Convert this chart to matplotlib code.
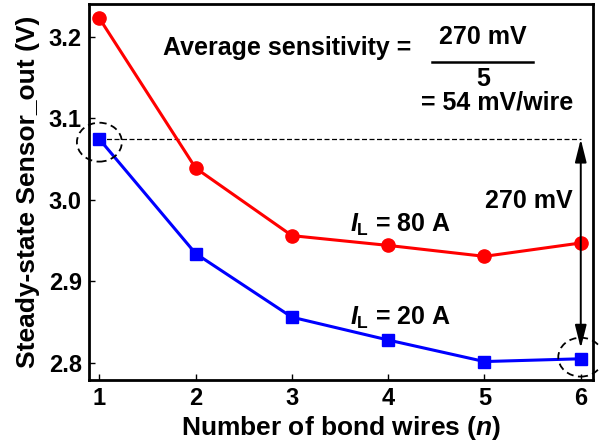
import numpy as np
import matplotlib
matplotlib.use('Agg')
import matplotlib.pyplot as plt
from matplotlib.patches import Ellipse
from matplotlib.lines import Line2D

plt.rcParams['font.family'] = 'Liberation Sans'
plt.rcParams['font.weight'] = 'bold'
plt.rcParams['mathtext.fontset'] = 'custom'
plt.rcParams['mathtext.bf'] = 'Liberation Sans:bold'
plt.rcParams['mathtext.it'] = 'Liberation Sans:bold:italic'
plt.rcParams['mathtext.rm'] = 'Liberation Sans:bold'

# data
n_wires = [1, 2, 3, 4, 5, 6]
v_80A = [3.2225, 3.0388, 2.956, 2.944, 2.9306, 2.947]
v_20A = [3.0743, 2.934, 2.856, 2.828, 2.8016, 2.805]
x_ticks = [1, 2, 3, 4, 5, 6]
y_ticks = [2.8, 2.9, 3.0, 3.1, 3.2]

fig = plt.figure(figsize=(6, 4.46), dpi=100)
ax = fig.add_axes([0.148, 0.148, 0.840, 0.843])

ax.plot(n_wires, v_80A, color='#ff0000', lw=2.2, marker='o', ms=9.5, zorder=3)
ax.plot(n_wires, v_20A, color='#0000ff', lw=2.2, marker='s', ms=8, zorder=3)

# reference dashed line + 270 mV arrow
ax.plot([n_wires[0], n_wires[-1]], [v_20A[0], v_20A[0]], color='black', lw=0.9,
        ls=(0, (4, 2)), zorder=2)
ax.annotate('', xy=(n_wires[-1], v_20A[-1] + 0.013), xytext=(n_wires[-1], v_20A[0]),
            arrowprops=dict(arrowstyle='<|-|>,head_width=0.25,head_length=1.0',
                            mutation_scale=14, color='black', lw=1.4,
                            shrinkA=0, shrinkB=0))

# dashed circles
for cx, cy in [(n_wires[0], 3.0706), (n_wires[-1], 2.807)]:
    ax.add_patch(Ellipse((cx, cy), 0.467, 0.0477, fill=False, ec='black',
                         lw=1.3, ls=(0, (4, 2.5)), clip_on=False, zorder=4))

ax.set_xlim(0.89, 6.125)
ax.set_ylim(2.779, 3.240)
ax.set_xticks(x_ticks)
ax.set_yticks(y_ticks)
ax.set_yticklabels(['%.1f' % v for v in y_ticks])
ax.tick_params(direction='in', length=4, width=1, labelsize=17, pad=5)
for s in ax.spines.values():
    s.set_linewidth(2)

ax.set_xlabel('Number of bond wires ($\\mathit{n}$)', fontsize=19, fontweight='bold', labelpad=3)
ax.set_ylabel('Steady-state Sensor_out (V)', fontsize=19, fontweight='bold', labelpad=6)

# annotations
fs = 18
fig.text(163 / 600, 1 - 48 / 446, 'Average sensitivity =', fontsize=fs, fontweight='bold',
         ha='left', va='center')
fig.text(483 / 600, 1 - 37 / 446, '270 mV', fontsize=fs, fontweight='bold',
         ha='center', va='center')
fig.add_artist(Line2D([432 / 600, 533 / 600], [1 - 62 / 446, 1 - 62 / 446],
                      color='black', lw=1.8))
fig.text(483 / 600, 1 - 79 / 446, '5', fontsize=fs, fontweight='bold',
         ha='center', va='center')
fig.text(573 / 600, 1 - 103 / 446, '= 54 mV/wire', fontsize=fs, fontweight='bold',
         ha='right', va='center')
fig.text(573 / 600, 1 - 201 / 446, '270 mV', fontsize=fs, fontweight='bold',
         ha='right', va='center')
fig.text(350 / 600, 1 - 225 / 446, r'$\mathit{I}_{\mathrm{L}}$ = 80 A', fontsize=fs,
         fontweight='bold', ha='left', va='center')
fig.text(350 / 600, 1 - 318 / 446, r'$\mathit{I}_{\mathrm{L}}$ = 20 A', fontsize=fs,
         fontweight='bold', ha='left', va='center')

fig.savefig('out.png', dpi=100)
